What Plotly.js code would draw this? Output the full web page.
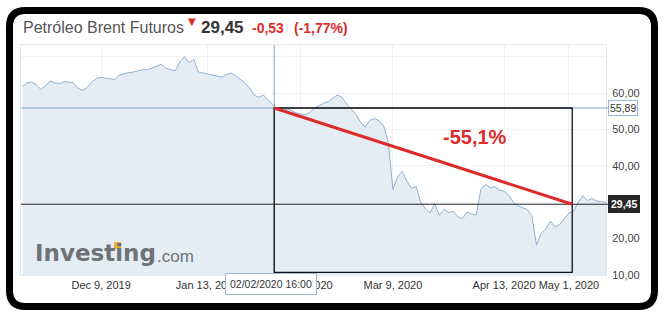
<!DOCTYPE html>
<html>
<head>
<meta charset="utf-8">
<script src="https://cdn.plot.ly/plotly-3.0.1.min.js"></script>
<style>
html,body{margin:0;padding:0;background:#fff;}
#chart{width:665px;height:320px;}
</style>
</head>
<body>
<div id="chart"></div>
<script>
// ---- data (daily closes) ----
const dates = [
'2019-11-14','2019-11-15','2019-11-18','2019-11-19','2019-11-20','2019-11-21','2019-11-22','2019-11-25','2019-11-26','2019-11-27','2019-11-28','2019-11-29',
'2019-12-02','2019-12-03','2019-12-04','2019-12-05','2019-12-06','2019-12-09','2019-12-10','2019-12-11','2019-12-12','2019-12-13','2019-12-16','2019-12-17','2019-12-18','2019-12-19','2019-12-20','2019-12-23','2019-12-24','2019-12-26','2019-12-27','2019-12-30','2019-12-31',
'2020-01-02','2020-01-03','2020-01-06','2020-01-07','2020-01-08','2020-01-09','2020-01-10','2020-01-13','2020-01-14','2020-01-15','2020-01-16','2020-01-17','2020-01-20','2020-01-21','2020-01-22','2020-01-23','2020-01-24','2020-01-27','2020-01-28','2020-01-29','2020-01-30','2020-01-31',
'2020-02-03','2020-02-04','2020-02-05','2020-02-06','2020-02-07','2020-02-10','2020-02-11','2020-02-12','2020-02-13','2020-02-14','2020-02-17','2020-02-18','2020-02-19','2020-02-20','2020-02-21','2020-02-24','2020-02-25','2020-02-26','2020-02-27','2020-02-28',
'2020-03-02','2020-03-03','2020-03-04','2020-03-05','2020-03-06','2020-03-09','2020-03-10','2020-03-11','2020-03-12','2020-03-13','2020-03-16','2020-03-17','2020-03-18','2020-03-19','2020-03-20','2020-03-23','2020-03-24','2020-03-25','2020-03-26','2020-03-27','2020-03-30','2020-03-31',
'2020-04-01','2020-04-02','2020-04-03','2020-04-06','2020-04-07','2020-04-08','2020-04-09','2020-04-13','2020-04-14','2020-04-15','2020-04-16','2020-04-17','2020-04-20','2020-04-21','2020-04-22','2020-04-23','2020-04-24','2020-04-27','2020-04-28','2020-04-29','2020-04-30',
'2020-05-01','2020-05-04','2020-05-05','2020-05-06','2020-05-07','2020-05-08','2020-05-11','2020-05-12','2020-05-13'
];
const brent = [
61.7,62.8,63.0,62.3,61.0,62.0,63.3,62.8,62.6,63.1,63.0,62.8,
61.3,60.8,61.5,63.1,64.0,64.3,64.1,63.8,63.7,65.0,65.4,65.6,65.8,66.2,66.4,66.4,66.9,67.3,67.9,66.8,66.4,
66.1,68.6,70.0,68.3,69.3,65.8,65.5,65.2,64.9,64.5,64.4,65.0,65.5,64.8,63.8,62.8,61.5,59.5,58.8,59.5,58.2,57.0,
55.4,54.9,55.6,55.3,54.6,54.2,54.0,54.6,55.8,56.5,57.2,57.6,58.5,59.5,58.8,57.0,55.6,54.2,52.0,50.6,
52.5,53.0,52.4,51.0,46.5,33.5,37.0,38.5,35.8,33.8,34.3,30.0,28.2,27.0,29.6,26.5,28.0,27.2,27.5,26.0,25.5,27.3,
26.8,26.5,33.6,34.8,34.0,34.3,33.3,33.0,32.0,30.0,29.0,28.5,28.0,26.2,18.2,21.5,22.6,24.8,23.2,23.9,25.5,
27.0,27.5,30.0,31.8,30.5,31.0,30.3,30.2,29.9
];
const holidays = ['2019-12-25','2020-01-01','2020-04-10'];
const xTickVals = ['2019-12-09','2020-01-13','2020-02-10','2020-03-09','2020-04-13','2020-05-01'];
const xTickText = ['Dec 9, 2019','Jan 13, 2020','Feb 10, 2020','Mar 9, 2020','Apr 13, 2020','May 1, 2020'];
const yTickVals = [10,20,40,50,60];
const yGridExtra = [30,70];

// drawing-tool values
const startLevel = 55.89, endLevel = 29.45, lastPrice = 29.45;
const startTime = '2020-01-31 09:00', endTime = '2020-05-01 17:00';
const changeText = '-55,1%';

// ---- layout helpers (pixel -> paper) ----
const PL=21, PR=606, PT=45, PB=275;
const px = p => (p-PL)/(PR-PL);
const py = p => (PB-p)/(PB-PT);

function framePath(){
  const L=9.5,R=654.5,T=10.5,B=306.5,r=16;
  const P=(a,b)=>px(a)+','+py(b);
  return 'M'+P(L+r,T)+' L'+P(R-r,T)+' Q'+P(R,T)+' '+P(R,T+r)+' L'+P(R,B-r)+' Q'+P(R,B)+' '+P(R-r,B)+
         ' L'+P(L+r,B)+' Q'+P(L,B)+' '+P(L,B-r)+' L'+P(L,T+r)+' Q'+P(L,T)+' '+P(L+r,T)+' Z';
}

const RED = '#dc2b2b';
const FONT = 'Arial, "Liberation Sans", sans-serif';

const trace = {
  x: dates, y: brent, type: 'scatter', mode: 'lines',
  line: {color: '#8db1d5', width: 1},
  fill: 'tozeroy', fillcolor: '#e5edf4',
  hoverinfo: 'skip'
};

const gridShapes = yGridExtra.map(v => ({type:'line', xref:'paper', yref:'y', x0:0, x1:1, y0:v, y1:v, line:{color:'#eef1f5', width:1}, layer:'below'}));

const layout = {
  width: 665, height: 320,
  margin: {l: PL, r: 665-PR, t: PT, b: 320-PB, pad: 0},
  paper_bgcolor: 'rgba(0,0,0,0)', plot_bgcolor: '#ffffff',
  separators: ',.',
  showlegend: false,
  font: {family: FONT, size: 11, color: '#333'},
  xaxis: {
    type: 'date',
    range: ['2019-11-13 17:00', '2020-05-13 00:00'],
    rangebreaks: [{bounds: ['sat','mon']}, {values: holidays}],
    tickmode: 'array', tickvals: xTickVals, ticktext: xTickText,
    showgrid: true, gridcolor: '#eef1f5', gridwidth: 1,
    showline: true, linecolor: '#e4e7eb', mirror: true,
    ticks: '', tickfont: {size: 11, color: '#333', family: FONT},
    zeroline: false, fixedrange: true
  },
  yaxis: {
    side: 'right',
    range: [10, 73.2],
    tickmode: 'array', tickvals: yTickVals, tickformat: '.2f',
    showgrid: true, gridcolor: '#eef1f5', gridwidth: 1,
    showline: true, linecolor: '#e4e7eb', mirror: true,
    ticks: '', ticklabelstandoff: 3,
    tickfont: {size: 11, color: '#444', family: FONT},
    zeroline: false, fixedrange: true
  },
  shapes: gridShapes.concat([
    {type:'line', xref:'x', yref:'paper', x0:startTime, x1:startTime, y0:0, y1:1, line:{color:'#7e9fc8', width:1}},
    {type:'line', xref:'paper', yref:'y', x0:0, x1:1.005, y0:startLevel, y1:startLevel, line:{color:'#7e9fc8', width:1}},
    {type:'line', xref:'paper', yref:'y', x0:0, x1:1.005, y0:lastPrice, y1:lastPrice, line:{color:'#222', width:1}},
    {type:'rect', xref:'x', yref:'y', x0:startTime, x1:endTime, y0:10.7, y1:startLevel, line:{color:'#111', width:1.3}, fillcolor:'rgba(0,0,0,0)'},
    {type:'line', xref:'x', yref:'y', x0:startTime, x1:endTime, y0:startLevel, y1:endLevel, line:{color:RED, width:3}},
    {type:'path', xref:'paper', yref:'paper', path: framePath(), line:{color:'#000', width:7}, fillcolor:'rgba(0,0,0,0)'},
    {type:'rect', xref:'paper', yref:'paper', x0:px(114), x1:px(121), y0:py(249), y1:py(242), line:{width:0}, fillcolor:'#f2b134'}
  ]),
  annotations: [
    {xref:'paper', yref:'paper', x:px(21), y:py(27), xanchor:'left', yanchor:'middle', showarrow:false,
     text:'Petróleo Brent Futuros', font:{family:FONT, size:16, color:'#555'}},
    {xref:'paper', yref:'paper', x:px(192), y:py(22), xanchor:'center', yanchor:'middle', showarrow:false,
     text:'▼', font:{family:'DejaVu Sans', size:10, color:RED}},
    {xref:'paper', yref:'paper', x:px(199), y:py(27), xanchor:'left', yanchor:'middle', showarrow:false,
     text:'<b>29,45</b>', font:{family:FONT, size:17, color:'#333'}},
    {xref:'paper', yref:'paper', x:px(250), y:py(28), xanchor:'left', yanchor:'middle', showarrow:false,
     text:'<b>-0,53</b>', font:{family:FONT, size:14, color:RED}},
    {xref:'paper', yref:'paper', x:px(292), y:py(28), xanchor:'left', yanchor:'middle', showarrow:false,
     text:'<b>(-1,77%)</b>', font:{family:FONT, size:14, color:RED}},
    {xref:'paper', yref:'paper', x:px(475), y:py(137), xanchor:'center', yanchor:'middle', showarrow:false,
     text:'<b>'+changeText+'</b>', font:{family:FONT, size:20, color:RED}},
    {xref:'paper', yref:'y', x:1.003, y:startLevel, xanchor:'left', yanchor:'middle', showarrow:false,
     text:'55,89', font:{family:FONT, size:10.5, color:'#333'}, bgcolor:'#fff', bordercolor:'#9db8d6', borderwidth:1, borderpad:1},
    {xref:'paper', yref:'y', x:1.003, y:lastPrice, xanchor:'left', yanchor:'middle', showarrow:false,
     text:'<b>29,45</b>', font:{family:FONT, size:10.5, color:'#fff'}, bgcolor:'#262626', bordercolor:'#262626', borderwidth:1, borderpad:2},
    {xref:'paper', yref:'paper', x:px(271), y:py(284), xanchor:'center', yanchor:'middle', showarrow:false,
     text:'02/02/2020 16:00', font:{family:FONT, size:10.5, color:'#333'}, bgcolor:'#fff', bordercolor:'#9db8d6', borderwidth:1, borderpad:4},
    {xref:'paper', yref:'paper', x:px(33), y:py(253), xanchor:'left', yanchor:'middle', showarrow:false,
     text:'<b>Investing</b>', font:{family:'DejaVu Sans', size:23, color:'#6e7278'}},
    {xref:'paper', yref:'paper', x:px(155), y:py(256), xanchor:'left', yanchor:'middle', showarrow:false,
     text:'.com', font:{family:FONT, size:17, color:'#6e7278'}}
  ]
};

Plotly.newPlot('chart', [trace], layout, {displayModeBar:false, staticPlot:true});
</script>
</body>
</html>
